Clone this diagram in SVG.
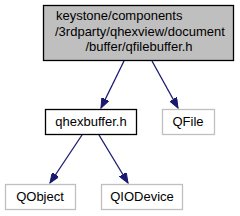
<svg xmlns="http://www.w3.org/2000/svg" width="240" height="216" viewBox="0 0 240 216">
<style>
text{font-family:"Liberation Sans",Arial,sans-serif;font-size:13px;fill:#000}
.m{text-anchor:middle}
.edge{stroke:#191970;stroke-width:1.3;fill:none}
.box{fill:#fff;stroke:#bfbfbf;stroke-width:1.3}
</style>
<defs>
<marker id="ah" markerUnits="userSpaceOnUse" markerWidth="11" markerHeight="8" refX="10" refY="4" orient="auto">
<path d="M0,0 L10,4 L0,8 z" fill="#191970" stroke="#191970" stroke-width="1"/>
</marker>
</defs>
<rect width="240" height="216" fill="#fff"/>
<g id="edges">
<line class="edge" x1="124" y1="61" x2="101" y2="108" marker-end="url(#ah)"/>
<line class="edge" x1="152" y1="61" x2="178" y2="108" marker-end="url(#ah)"/>
<line class="edge" x1="82" y1="135" x2="50" y2="183" marker-end="url(#ah)"/>
<line class="edge" x1="99" y1="135" x2="128" y2="183" marker-end="url(#ah)"/>
</g>
<g id="node_qfilebuffer">
<rect x="43.5" y="5.5" width="190" height="55" fill="#bfbfbf" stroke="#000" stroke-width="1.3"/>
<text x="56" y="20">keystone/components</text>
<text x="55" y="35.5">/3rdparty/qhexview/document</text>
<text class="m" x="139" y="50.5">/buffer/qfilebuffer.h</text>
</g>
<g id="node_qhexbuffer">
<rect x="45.5" y="109.5" width="91" height="25" fill="#fff" stroke="#000" stroke-width="1.3"/>
<text class="m" x="91" y="126">qhexbuffer.h</text>
</g>
<g id="node_qfile">
<rect class="box" x="162.5" y="109.5" width="52" height="25"/>
<text class="m" x="188" y="126">QFile</text>
</g>
<g id="node_qobject">
<rect class="box" x="5.5" y="184.5" width="70" height="25"/>
<text class="m" x="40" y="201">QObject</text>
</g>
<g id="node_qiodevice">
<rect class="box" x="101.5" y="184.5" width="81" height="25"/>
<text class="m" x="142" y="201">QIODevice</text>
</g>
</svg>
